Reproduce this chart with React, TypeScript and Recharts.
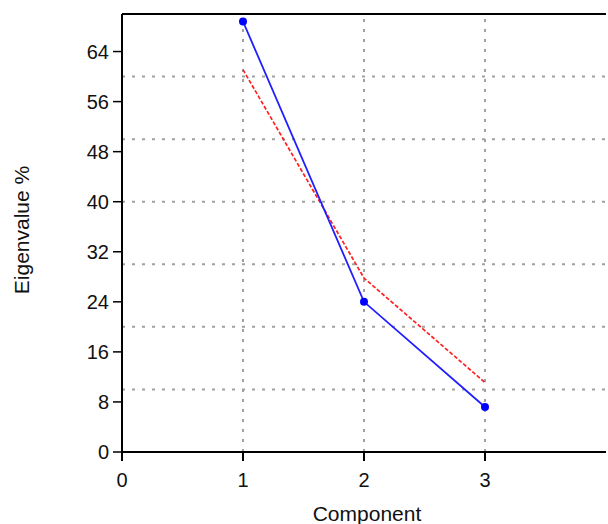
import { LineChart, Line, XAxis, YAxis, ReferenceLine } from 'recharts'

const components = [1, 2, 3]
const eigenvalue = [68.8, 24.0, 7.2]
const brokenStick = [61.1, 27.8, 11.1]
const xTicks = [0, 1, 2, 3]
const yTicks = [0, 8, 16, 24, 32, 40, 48, 56, 64]
const gridY = [10, 20, 30, 40, 50, 60]

const data = components.map((c, i) => ({
  component: c,
  eigenvalue: eigenvalue[i],
  brokenStick: brokenStick[i],
}))

const font = '"Liberation Sans", Arial, sans-serif'

const XTick = ({ x, y, payload }: any) => (
  <text x={x} y={y + 24} textAnchor="middle" fill="#111" fontSize={20} fontFamily={font}>
    {payload.value}
  </text>
)

const YTick = ({ x, y, payload }: any) => (
  <text x={x - 2} y={y + 7} textAnchor="end" fill="#111" fontSize={20} fontFamily={font}>
    {payload.value}
  </text>
)

export default function App() {
  return (
    <div style={{ position: 'absolute', left: 0, top: 0, width: 608, height: 524, overflow: 'hidden', background: '#fff' }}>
      <LineChart width={608} height={524} data={data} margin={{ top: 14, right: 2, bottom: 0, left: 0 }}>
        {gridY.map(v => (
          <ReferenceLine key={'h' + v} y={v} stroke="#a0a0a0" strokeWidth={2} strokeDasharray="3 7" />
        ))}
        {components.map(v => (
          <ReferenceLine key={'v' + v} x={v} stroke="#a0a0a0" strokeWidth={2} strokeDasharray="3 7" />
        ))}
        <ReferenceLine y={70} stroke="#000" strokeWidth={2} />
        <XAxis
          type="number"
          dataKey="component"
          domain={[0, 4]}
          ticks={xTicks}
          allowDataOverflow
          height={72}
          stroke="#000"
          strokeWidth={2}
          tickSize={9}
          tickLine={{ stroke: '#000', strokeWidth: 2 }}
          tick={XTick}
          label={({ viewBox }: any) => (
            <text x={viewBox.x + viewBox.width / 2 + 3} y={viewBox.y + 69} textAnchor="middle" fill="#111" fontSize={21} fontFamily={font}>
              Component
            </text>
          )}
        />
        <YAxis
          type="number"
          domain={[0, 70]}
          ticks={yTicks}
          allowDataOverflow
          width={122}
          stroke="#000"
          strokeWidth={2}
          tickSize={9}
          tickLine={{ stroke: '#000', strokeWidth: 1.5 }}
          tick={YTick}
          label={({ viewBox }: any) => {
            const cx = viewBox.x + 21
            const cy = viewBox.y + viewBox.height / 2 - 3
            return (
              <text x={cx} y={cy} transform={`rotate(-90 ${cx} ${cy})`} textAnchor="middle" dominantBaseline="central" fill="#111" fontSize={21} fontFamily={font}>
                Eigenvalue %
              </text>
            )
          }}
        />
        <Line
          type="linear"
          dataKey="brokenStick"
          stroke="#ff2020"
          strokeWidth={1.7}
          strokeDasharray="4 2"
          dot={false}
          isAnimationActive={false}
        />
        <Line
          type="linear"
          dataKey="eigenvalue"
          stroke="#2020ff"
          strokeWidth={1.8}
          dot={{ r: 4, fill: '#0000ff', stroke: '#0000ff', strokeWidth: 0 }}
          isAnimationActive={false}
        />
      </LineChart>
    </div>
  )
}
